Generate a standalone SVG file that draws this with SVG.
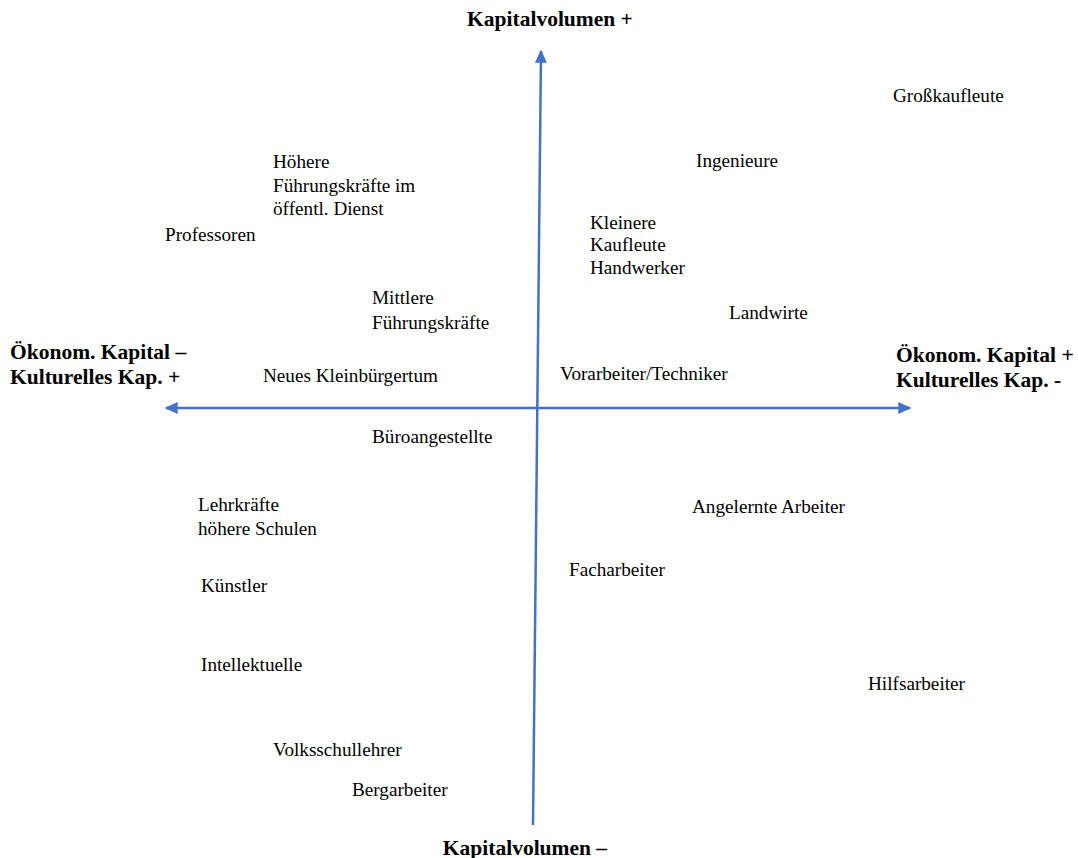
<svg xmlns="http://www.w3.org/2000/svg" width="1078" height="858" viewBox="0 0 1078 858">
<style>
.t{font-family:"Liberation Serif","Times New Roman",serif;font-size:19.2px;fill:#000}
.b{font-family:"Liberation Serif","Times New Roman",serif;font-size:21.5px;font-weight:bold;fill:#000}
.ax{stroke:#4472C4;stroke-width:2.5;fill:none}
</style>
<defs>
<marker id="ah" viewBox="0 0 10 10" refX="9" refY="5" markerWidth="13" markerHeight="12" markerUnits="userSpaceOnUse" orient="auto-start-reverse" preserveAspectRatio="none">
<path d="M0,0 L10,5 L0,10 z" fill="#4472C4"/>
</marker>
</defs>
<rect width="1078" height="858" fill="#fff"/>
<g id="connectors">
<line class="ax" x1="533" y1="825" x2="541" y2="51" marker-end="url(#ah)"/>
<line class="ax" x1="166" y1="408" x2="910" y2="408" marker-start="url(#ah)" marker-end="url(#ah)"/>
</g>
<g id="axis-top"><text class="b" x="550" y="26" text-anchor="middle">Kapitalvolumen +</text></g>
<g id="axis-bottom"><text class="b" x="525" y="855" text-anchor="middle">Kapitalvolumen –</text></g>
<g id="axis-left"><text class="b" x="10" y="359">Ökonom. Kapital –</text><text class="b" x="10" y="384">Kulturelles Kap. +</text></g>
<g id="axis-right"><text class="b" x="896" y="362">Ökonom. Kapital +</text><text class="b" x="896" y="387">Kulturelles Kap. -</text></g>
<g id="n-grosskaufleute"><text class="t" x="893" y="102">Großkaufleute</text></g>
<g id="n-ingenieure"><text class="t" x="696" y="167">Ingenieure</text></g>
<g id="n-hoehere"><text class="t" x="273" y="168">Höhere</text><text class="t" x="273" y="192">Führungskräfte im</text><text class="t" x="273" y="215">öffentl. Dienst</text></g>
<g id="n-professoren"><text class="t" x="165" y="241">Professoren</text></g>
<g id="n-kleinere"><text class="t" x="590" y="229">Kleinere</text><text class="t" x="590" y="251">Kaufleute</text><text class="t" x="590" y="274">Handwerker</text></g>
<g id="n-mittlere"><text class="t" x="372" y="304">Mittlere</text><text class="t" x="372" y="329">Führungskräfte</text></g>
<g id="n-landwirte"><text class="t" x="729" y="319">Landwirte</text></g>
<g id="n-neues"><text class="t" x="263" y="382">Neues Kleinbürgertum</text></g>
<g id="n-vorarbeiter"><text class="t" x="560" y="380">Vorarbeiter/Techniker</text></g>
<g id="n-buero"><text class="t" x="372" y="443">Büroangestellte</text></g>
<g id="n-lehrkraefte"><text class="t" x="198" y="511">Lehrkräfte</text><text class="t" x="198" y="535">höhere Schulen</text></g>
<g id="n-angelernte"><text class="t" x="692" y="513">Angelernte Arbeiter</text></g>
<g id="n-facharbeiter"><text class="t" x="569" y="576">Facharbeiter</text></g>
<g id="n-kuenstler"><text class="t" x="201" y="592">Künstler</text></g>
<g id="n-intellektuelle"><text class="t" x="201" y="671">Intellektuelle</text></g>
<g id="n-hilfsarbeiter"><text class="t" x="868" y="690">Hilfsarbeiter</text></g>
<g id="n-volksschul"><text class="t" x="273" y="756">Volksschullehrer</text></g>
<g id="n-bergarbeiter"><text class="t" x="352" y="796">Bergarbeiter</text></g>
</svg>
